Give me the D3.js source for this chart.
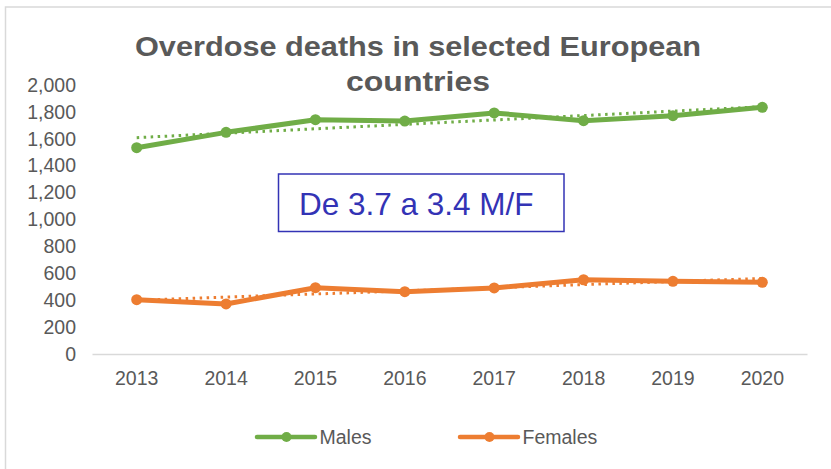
<!DOCTYPE html>
<html>
<head>
<meta charset="utf-8">
<script src="https://cdn.jsdelivr.net/npm/d3@7"></script>
<style>
  body { margin: 0; background: #fff; }
  svg { display: block; font-family: "Liberation Sans", Arial, sans-serif; }
</style>
</head>
<body>
<svg class="overdose" width="831" height="469"></svg>
<script>
var years = ["2013", "2014", "2015", "2016", "2017", "2018", "2019", "2020"];
var males = [1534, 1648, 1742, 1732, 1792, 1735, 1772, 1834];
var females = [404, 372, 493, 463, 491, 552, 540, 533];
var yTicks = [0, 200, 400, 600, 800, 1000, 1200, 1400, 1600, 1800, 2000];
var titleLines = ["Overdose deaths in selected European", "countries"];
var note = "De 3.7 a 3.4 M/F";

var series = [
    {id: "Males", values: males, color: "#70ad47"},
    {id: "Females", values: females, color: "#ed7d31"}
];

var svg = d3.select("svg.overdose"),
    margin = {top: 85, right: 24, bottom: 115, left: 92},
    width = +svg.attr("width"),
    height = +svg.attr("height");

// chart frame (only top and left edges fall inside the picture)
svg.append("rect")
    .attr("x", 5.5)
    .attr("y", 7)
    .attr("width", 900)
    .attr("height", 600)
    .attr("fill", "none")
    .attr("stroke", "#d9d9d9")
    .attr("stroke-width", 1.5);

var x = d3.scaleBand().domain(years).range([margin.left, width - margin.right]),
    y = d3.scaleLinear().domain([0, 2000]).range([354, 85]);

function cx(d, i) { return x(years[i]) + x.bandwidth() / 2; }

// title, the picture's font runs a bit wide so fit each line to its width
var titleWidths = [566, 144];
svg.append("g")
    .selectAll("text")
    .data(titleLines)
    .enter()
    .append("text")
    .attr("x", function(d, i) { return 418 - titleWidths[i] / 2; })
    .attr("y", function(d, i) { return 56 + i * 35; })
    .attr("textLength", function(d, i) { return titleWidths[i]; })
    .attr("lengthAdjust", "spacingAndGlyphs")
    .style("font-size", "28px")
    .style("font-weight", "bold")
    .attr("fill", "#595959")
    .text(function(d) { return d; });

// y axis
var yAxis = svg.append("g")
    .attr("transform", "translate(" + 76 + ",0)")
    .call(d3.axisLeft(y).tickValues(yTicks).tickSize(0).tickPadding(0).tickFormat(d3.format(",")));
yAxis.select(".domain").remove();
yAxis.selectAll("text")
    .attr("fill", "#595959")
    .style("font-size", "19.5px")
    .style("font-family", "Liberation Sans, Arial, sans-serif");

// x axis
var xAxis = svg.append("g")
    .attr("transform", "translate(0," + y(0) + ")")
    .call(d3.axisBottom(x).tickSize(0).tickPadding(17));
xAxis.select(".domain")
    .attr("stroke", "#d9d9d9")
    .attr("stroke-width", 1.5);
xAxis.selectAll("text")
    .attr("fill", "#595959")
    .style("font-size", "19.5px")
    .style("font-family", "Liberation Sans, Arial, sans-serif");

// linear trend lines (least squares on the series)
function trend(values) {
    var n = values.length,
        mx = (n - 1) / 2,
        my = d3.mean(values),
        sxy = d3.sum(values, function(v, i) { return (i - mx) * (v - my); }),
        sxx = d3.sum(values, function(v, i) { return (i - mx) * (i - mx); }),
        b = sxy / sxx;
    return [my - b * mx, my + b * (n - 1 - mx)];
}

var line = d3.line()
    .x(cx)
    .y(function(d) { return y(d); });

var landing = svg.selectAll(".serie")
    .data(series)
    .enter()
    .append("g")
    .attr("class", "serie");

landing.append("line")
    .attr("x1", x(years[0]) + x.bandwidth() / 2)
    .attr("x2", x(years[years.length - 1]) + x.bandwidth() / 2)
    .attr("y1", function(d) { return y(trend(d.values)[0]); })
    .attr("y2", function(d) { return y(trend(d.values)[1]); })
    .attr("stroke", function(d) { return d.color; })
    .attr("stroke-width", 3)
    .attr("stroke-dasharray", "2.5,4.5");

landing.append("path")
    .attr("d", function(d) { return line(d.values); })
    .attr("fill", "none")
    .attr("stroke", function(d) { return d.color; })
    .attr("stroke-width", 5)
    .attr("stroke-linejoin", "round");

landing.selectAll("circle")
    .data(function(d) { return d.values.map(function(v) { return {v: v, color: d.color}; }); })
    .enter()
    .append("circle")
    .attr("cx", cx)
    .attr("cy", function(d) { return y(d.v); })
    .attr("r", 5.5)
    .attr("fill", function(d) { return d.color; });

// annotation box
svg.append("rect")
    .attr("x", 278.5)
    .attr("y", 174)
    .attr("width", 285.5)
    .attr("height", 57.5)
    .attr("fill", "#fff")
    .attr("stroke", "#3333b5")
    .attr("stroke-width", 1.5);

svg.append("text")
    .attr("x", 299)
    .attr("y", 215)
    .attr("fill", "#3333b5")
    .style("font-size", "31.5px")
    .text(note);

// legend
var legendX = [257, 460];
var legend = svg.selectAll(".legend")
    .data(series)
    .enter()
    .append("g")
    .attr("class", "legend")
    .attr("transform", function(d, i) { return "translate(" + legendX[i] + ",437)"; });

legend.append("line")
    .attr("x1", 0)
    .attr("x2", 58)
    .attr("stroke", function(d) { return d.color; })
    .attr("stroke-width", 4.5)
    .attr("stroke-linecap", "round");

legend.append("circle")
    .attr("cx", 29.5)
    .attr("r", 5)
    .attr("fill", function(d) { return d.color; });

legend.append("text")
    .attr("x", 62.5)
    .attr("dy", "0.35em")
    .attr("fill", "#595959")
    .style("font-size", "19.5px")
    .text(function(d) { return d.id; });
</script>
</body>
</html>
